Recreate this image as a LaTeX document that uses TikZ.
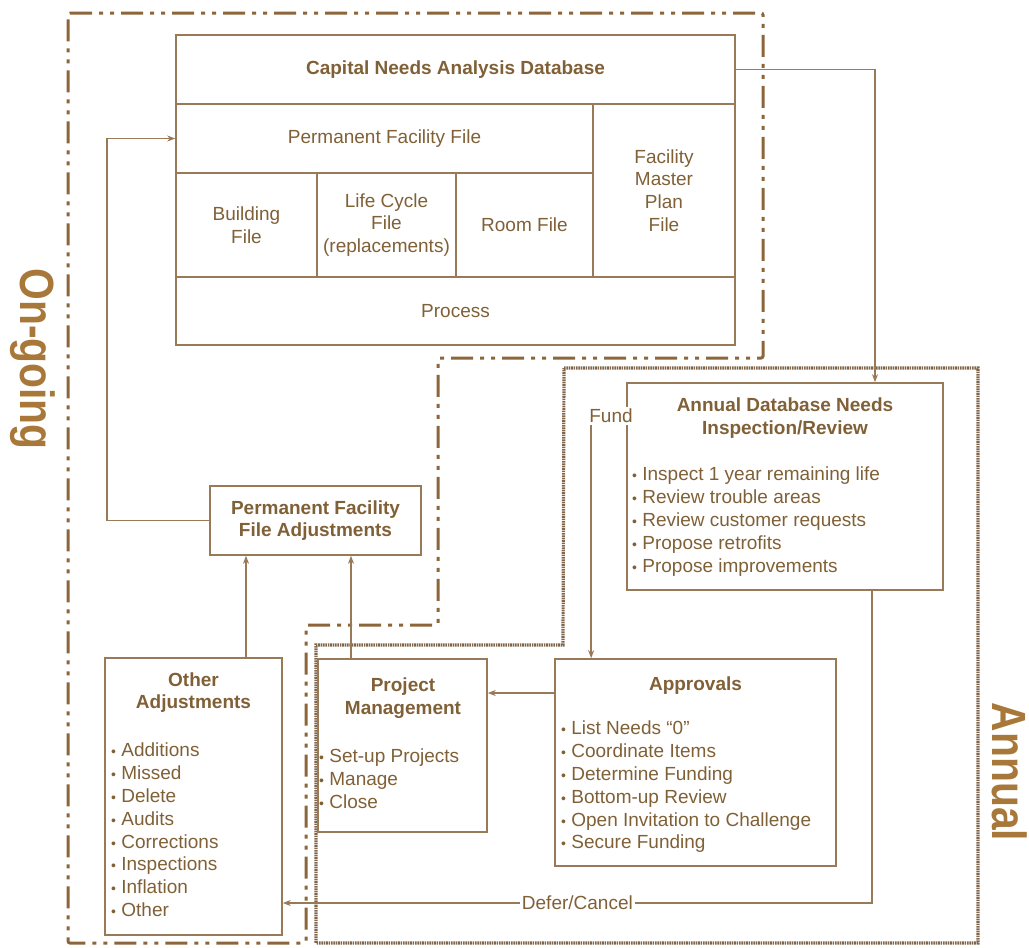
\documentclass[tikz,border=0pt]{standalone}
\usepackage{fontspec}
\setmainfont{Liberation Sans}
\newfontfamily\condfont[FakeStretch=0.85]{Liberation Sans}
\usetikzlibrary{arrows.meta}
\definecolor{textc}{RGB}{128,96,54}
\definecolor{linec}{RGB}{152,122,88}
\definecolor{labelc}{RGB}{168,120,58}
\definecolor{dashc}{RGB}{140,102,58}
\definecolor{dotc}{RGB}{128,102,74}
\newcommand\fs{\fontsize{19}{22.8}\selectfont}
\newcommand\fsb{\fontsize{19}{22.8}\selectfont\bfseries}
\newcommand\bul{{\fontsize{14}{14}\selectfont\textbullet}\ }
\begin{document}
\begin{tikzpicture}[x=1pt,y=-1pt,
  box/.style={draw=linec, line width=1.6pt, inner sep=0pt},
  txt/.style={text=textc, font=\fs, inner sep=0pt, align=center},
  cell/.style={box, txt},
  ttl/.style={txt, font=\fsb},
  lst/.style={txt, align=left, anchor=north west},
  arr/.style={draw=linec, line width=1.6pt, -{Stealth[length=8pt,width=6pt]}},
  ongo/.style={draw=dashc, line width=3pt, dash pattern=on 22pt off 7pt on 4pt off 7pt on 4pt off 7pt, rounded corners=2pt},
  annb/.style={draw=dotc, line width=3.2pt, dash pattern=on 1.6pt off 0.8pt},
  biglabel/.style={text=labelc, font=\condfont\bfseries\fontsize{48}{50}\selectfont, rotate=-90, anchor=base, inner sep=0pt}
]
\useasboundingbox (0,0) rectangle (1029,948);

% region boundaries
\draw[ongo] (68,13) -- (763,13) -- (763,358) -- (438,358) -- (438,625) -- (306,625) -- (306,943) -- (68,943) -- cycle;
\draw[annb] (564,368) -- (978,368) -- (978,943) -- (316,943) -- (316,645) -- (563,645) -- cycle;

\node[biglabel] (ongoing) at (20,359) {On-going};
\node[biglabel] (annual) at (992,772) {Annual};

% database block
\node[cell,minimum width=559pt,minimum height=69pt,font=\fsb] (cap) at (455.5,69.5) {Capital Needs Analysis Database};
\node[cell,minimum width=417pt,minimum height=69pt] (pff) at (384.5,138.5) {Permanent Facility File};
\node[cell,minimum width=141pt,minimum height=104pt] (bld) at (246.5,225) {Building\\File};
\node[cell,minimum width=139pt,minimum height=104pt] (lcf) at (386.5,225) {Life Cycle\\File\\(replacements)};
\node[cell,minimum width=137pt,minimum height=104pt] (room) at (524.5,225) {Room File};
\node[cell,minimum width=142pt,minimum height=173pt] (fmp) at (664,190.5) {Facility\\Master\\Plan\\File};
\node[cell,minimum width=559pt,minimum height=68pt] (proc) at (455.5,311) {Process};

% boxes
\node[box,ttl,minimum width=211pt,minimum height=69pt] (pffa) at (315.5,520.5) {Permanent Facility\\File Adjustments};
\node[box,minimum width=177pt,minimum height=277pt] (other) at (193.5,796.5) {};
\node[box,minimum width=169pt,minimum height=173pt] (pm) at (402.5,745.5) {};
\node[box,minimum width=281pt,minimum height=207pt] (appr) at (695.5,762.5) {};
\node[box,minimum width=316pt,minimum height=207pt] (adb) at (785,486.5) {};

% titles
\node[ttl] (adbt) at (785,418) {Annual Database Needs\\Inspection/Review};
\node[ttl,anchor=base] (apprt) at (695.5,690) {Approvals};
\node[ttl] (pmt) at (403,698.5) {Project\\Management};
\node[ttl] (othert) at (193.5,692.5) {Other\\Adjustments};

% lists
\node[lst] (adbl) at (632,467) {\bul Inspect 1 year remaining life\\\bul Review trouble areas\\\bul Review customer requests\\\bul Propose retrofits\\\bul Propose improvements};
\node[lst] (apprl) at (561,721) {\bul List Needs ``0''\\\bul Coordinate Items\\\bul Determine Funding\\\bul Bottom-up Review\\\bul Open Invitation to Challenge\\\bul Secure Funding};
\node[lst] (pml) at (319,749) {\bul Set-up Projects\\\bul Manage\\\bul Close};
\node[lst] (otherl) at (111,743) {\bul Additions\\\bul Missed\\\bul Delete\\\bul Audits\\\bul Corrections\\\bul Inspections\\\bul Inflation\\\bul Other};

% connectors
\draw[arr] (cap.east) -| ([xshift=90pt]adb.north);
\draw[arr] (pffa.west) -- ++(-102,0) |- (pff.west);
\draw[arr] ([xshift=52.5pt]other.north) -- ([xshift=52.5pt]other.north |- pffa.south);
\draw[arr] ([xshift=-51.5pt]pm.north) -- ([xshift=-51.5pt]pm.north |- pffa.south);
\draw[arr] ([yshift=69.5pt]appr.west) -- ([yshift=69.5pt]appr.west -| pm.east);
\node[txt,fill=white,inner sep=2pt] (fund) at (611,416) {Fund};
\draw[arr] ([xshift=4pt]fund.south west) -- ([xshift=4pt]fund.south west |- appr.north);
\draw[arr] ([xshift=87pt]adb.south) |- ([yshift=-106.5pt]other.east)
  node[txt,pos=0.75,fill=white,inner sep=2pt] (defer) {Defer/Cancel};
\end{tikzpicture}
\end{document}
